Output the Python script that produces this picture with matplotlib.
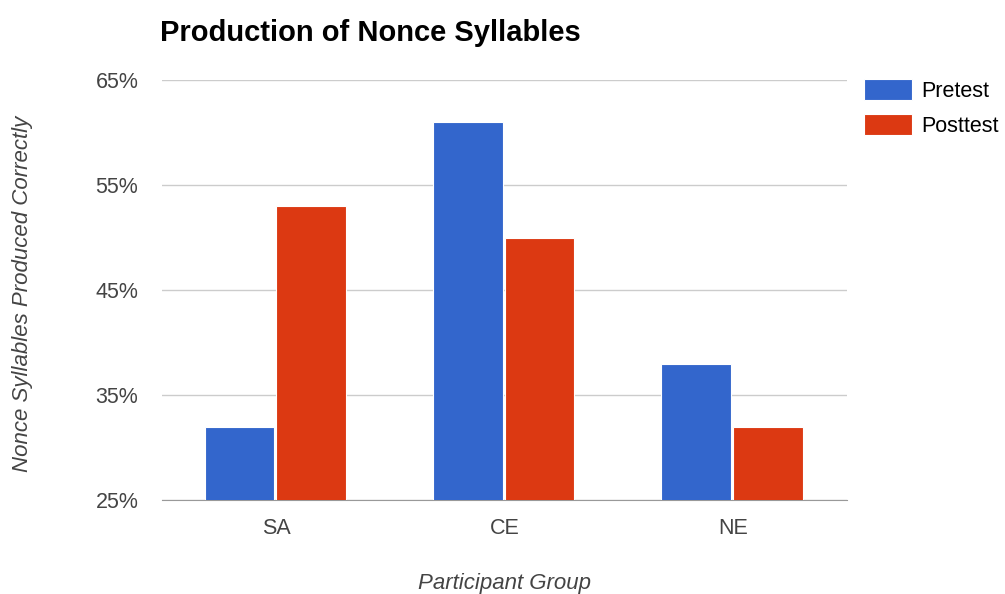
import numpy as np
import matplotlib.pyplot as plt
from matplotlib.ticker import FuncFormatter

groups = ['SA', 'CE', 'NE']
pretest = [32, 61, 38]
posttest = [53, 50, 32]
yticks = [25, 35, 45, 55, 65]

plt.rcParams['font.family'] = ['Liberation Sans', 'DejaVu Sans']

fig = plt.figure(figsize=(10.05, 5.94), dpi=100)
ax = fig.add_axes([0.1612, 0.1582, 0.6816, 0.7071])

x = np.arange(len(groups))
w = 0.305
ax.bar(x - 0.16, pretest, w, color='#3366CC', edgecolor='white', linewidth=0.8, label='Pretest', zorder=3)
ax.bar(x + 0.153, posttest, w, color='#DC3912', edgecolor='white', linewidth=0.8, label='Posttest', zorder=3)

ax.set_xlim(-0.5, 2.5)
ax.set_ylim(25, 65)
ax.set_yticks(yticks)
ax.yaxis.set_major_formatter(FuncFormatter(lambda v, p: '%d%%' % v))
ax.set_xticks(x)
ax.set_xticklabels(groups)
ax.grid(axis='y', color='#cccccc', linewidth=1, zorder=0)
ax.tick_params(length=0, labelsize=15.5, labelcolor='#444444')
ax.tick_params(axis='y', pad=17)
ax.tick_params(axis='x', pad=13)
for s in ['top', 'right', 'left']:
    ax.spines[s].set_visible(False)
ax.spines['bottom'].set_color('#999999')

fig.text(0.159, 0.944, 'Production of Nonce Syllables', fontsize=21, fontweight='bold',
         ha='left', va='center')
fig.text(0.022, 0.505, 'Nonce Syllables Produced Correctly', fontsize=16, style='italic',
         color='#444444', rotation=90, ha='center', va='center')
fig.text(0.5015, 0.017, 'Participant Group', fontsize=16, style='italic', color='#444444',
         ha='center', va='center')

ax.legend(loc='upper left', bbox_to_anchor=(1.0, 1.043), frameon=False, fontsize=15.5,
          handlelength=2.2, handleheight=1.12, labelspacing=0.55, handletextpad=0.45,
          borderaxespad=0.4)

fig.savefig('out.png', dpi=100)
